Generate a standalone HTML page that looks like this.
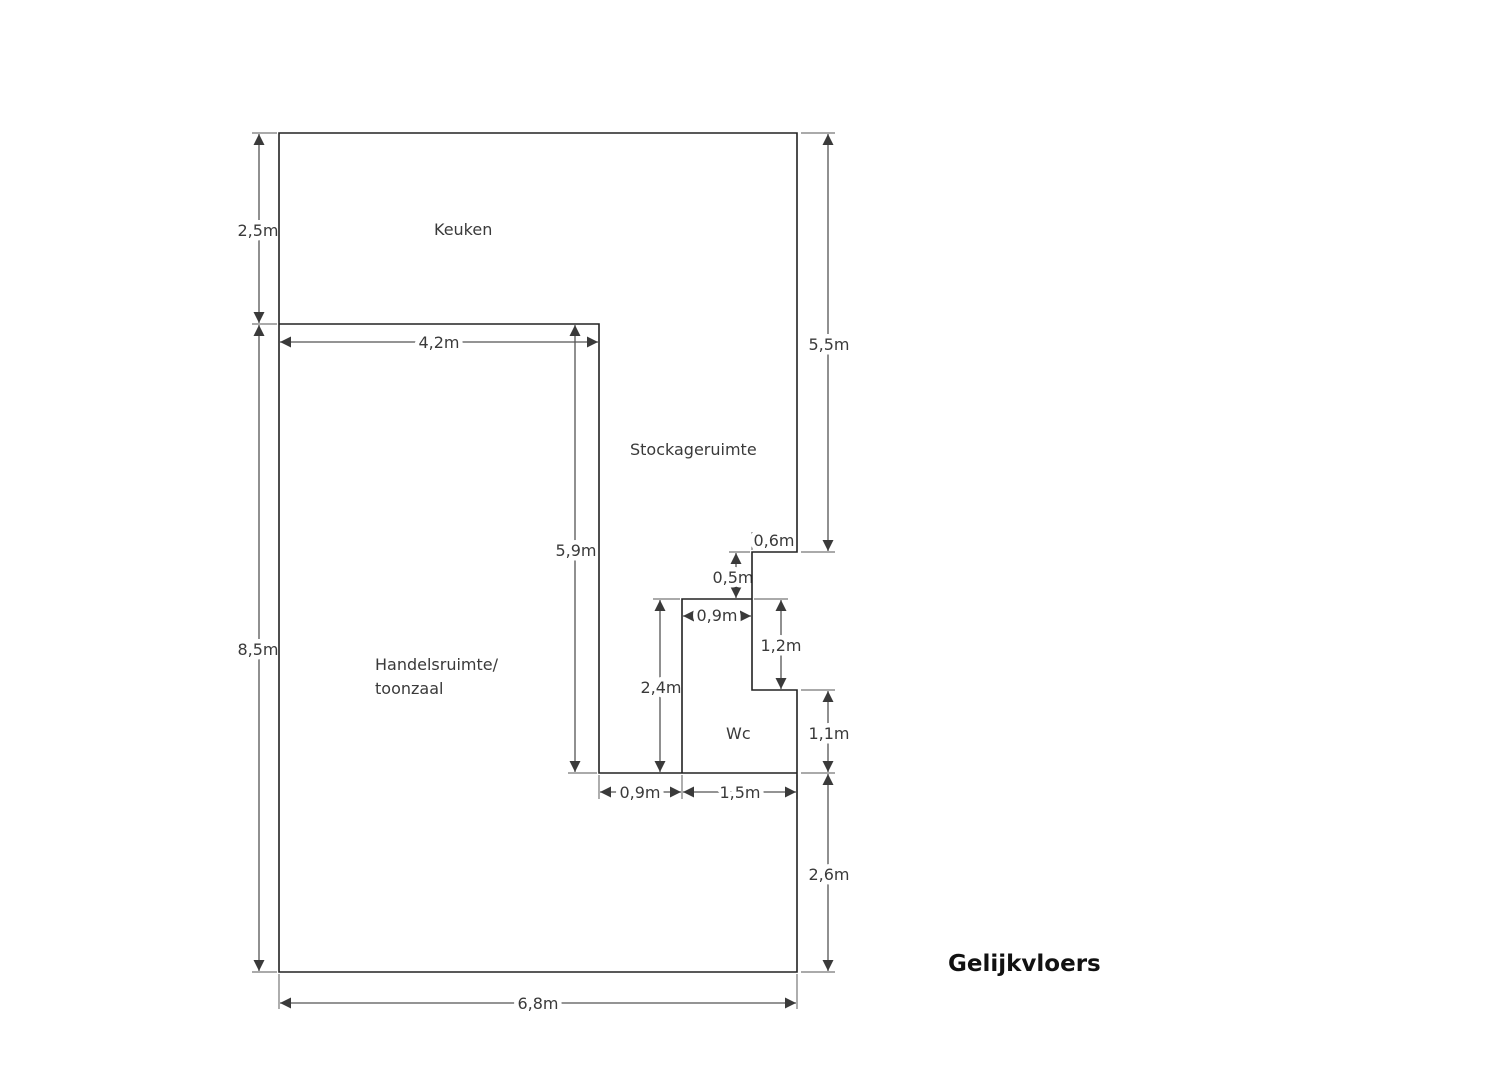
<!DOCTYPE html>
<html><head><meta charset="utf-8"><style>
html,body{margin:0;padding:0;background:#fff;}
svg{display:block;}
.t{font-family:"DejaVu Sans","Liberation Sans",sans-serif;font-size:16px;fill:#3a3a3a;}
.d{font-family:"DejaVu Sans","Liberation Sans",sans-serif;font-size:16px;fill:#3a3a3a;stroke:#fff;stroke-width:9px;stroke-linejoin:round;paint-order:stroke;}
</style></head><body>
<svg width="1503" height="1080" viewBox="0 0 1503 1080" xmlns="http://www.w3.org/2000/svg">
<defs>
<marker id="a" viewBox="0 0 10 10" refX="10" refY="5" markerWidth="16" markerHeight="11" markerUnits="userSpaceOnUse" orient="auto-start-reverse">
<path d="M0,0 L10,5 L0,10 z" fill="#3a3a3a"/></marker>
</defs>
<!-- extension lines -->
<g stroke="#777" stroke-width="1.2" fill="none">
<path d="M252,133 H277 M252,324 H277 M252,972 H277"/>
<path d="M801,133 H835 M801,552 H835 M801,690 H835 M801,773 H835 M801,972 H835"/>
<path d="M568,773 H597"/>
<path d="M653,599 H680 M754,599 H788"/>
<path d="M729,552 H750"/>
<path d="M279,974 V1009 M797,974 V1009"/>
<path d="M599,775 V799 M682,775 V799 M797,775 V799"/>
<path d="M752,532 V550"/>
</g>
<!-- dimension lines -->
<g stroke="#555" stroke-width="1.3" fill="none" marker-start="url(#a)" marker-end="url(#a)">
<line x1="259" y1="134" x2="259" y2="323"/>
<line x1="259" y1="325" x2="259" y2="971"/>
<line x1="828" y1="134" x2="828" y2="551"/>
<line x1="828" y1="691" x2="828" y2="772"/>
<line x1="828" y1="774" x2="828" y2="971"/>
<line x1="575" y1="325" x2="575" y2="772"/>
<line x1="660" y1="600" x2="660" y2="772"/>
<line x1="736" y1="553" x2="736" y2="598"/>
<line x1="781" y1="600" x2="781" y2="689"/>
<line x1="280" y1="342" x2="598" y2="342"/>
<line x1="683" y1="616" x2="751" y2="616"/>
<line x1="753" y1="540" x2="796" y2="540"/>
<line x1="600" y1="792" x2="681" y2="792"/>
<line x1="683" y1="792" x2="796" y2="792"/>
<line x1="280" y1="1003" x2="796" y2="1003"/>
</g>
<!-- dimension labels -->
<g class="d" text-anchor="middle">
<text x="258" y="236">2,5m</text>
<text x="258" y="655">8,5m</text>
<text x="829" y="350">5,5m</text>
<text x="829" y="739">1,1m</text>
<text x="829" y="880">2,6m</text>
<text x="576" y="556">5,9m</text>
<text x="661" y="693">2,4m</text>
<text x="733" y="583">0,5m</text>
<text x="781" y="651">1,2m</text>
<text x="439" y="348">4,2m</text>
<text x="717" y="621">0,9m</text>
<text x="774" y="546">0,6m</text>
<text x="640" y="798">0,9m</text>
<text x="740" y="798">1,5m</text>
<text x="538" y="1009">6,8m</text>
</g>
<!-- walls -->
<g fill="none" stroke="#222" stroke-width="1.6">
<path d="M279,133 H797 V552 H752 V690 H797 V972 H279 Z"/>
<path d="M279,324 H599 V773 H797"/>
<path d="M682,773 V599 H752"/>
</g>
<!-- room labels -->
<g class="t">
<text x="434" y="235">Keuken</text>
<text x="630" y="455">Stockageruimte</text>
<text x="375" y="670">Handelsruimte/</text>
<text x="375" y="694">toonzaal</text>
<text x="726" y="739">Wc</text>
</g>
<text x="948" y="971" style="font-family:'DejaVu Sans','Liberation Sans',sans-serif;font-weight:bold;font-size:23px;fill:#111;">Gelijkvloers</text>
</svg>
</body></html>
